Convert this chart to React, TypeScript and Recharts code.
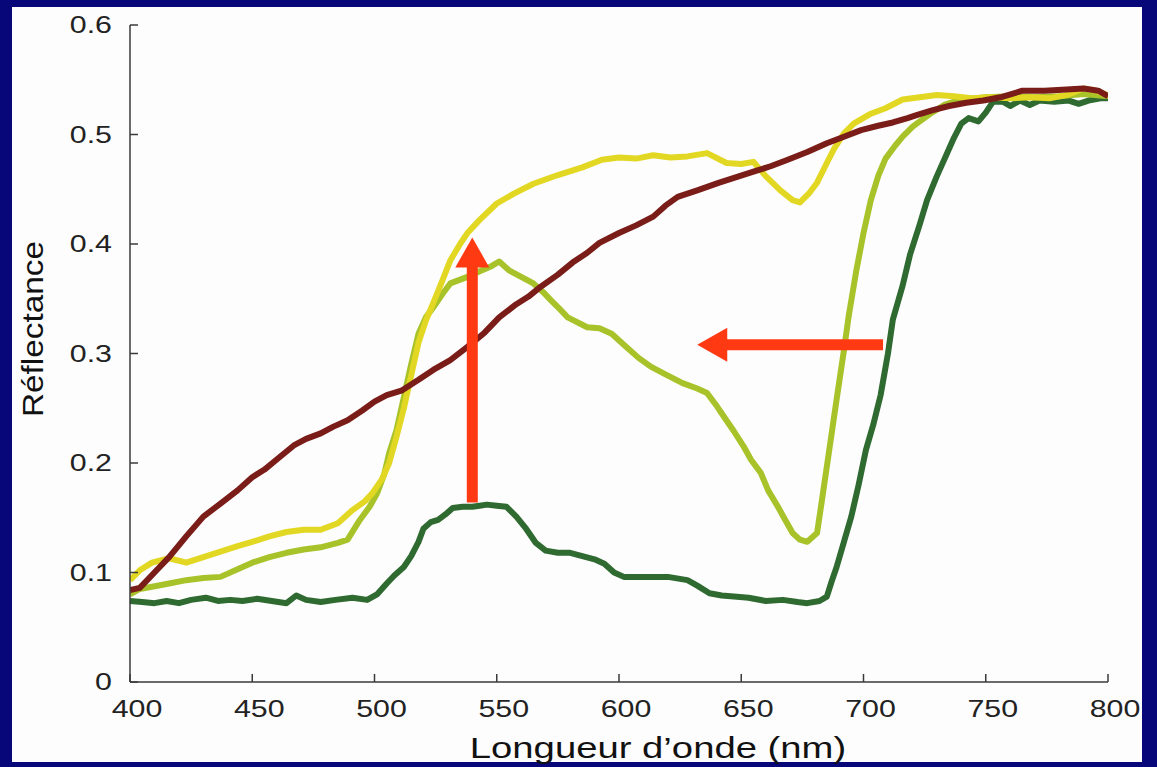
import { LineChart, Line, XAxis, YAxis, ReferenceLine } from 'recharts'

// wavelength (nm) / reflectance, one pair of arrays per curve
const brownWl = [400, 404, 410, 416, 423, 430, 437, 444, 450, 455, 461, 467, 472, 478, 483, 489, 495, 500, 505, 511, 518, 524, 531, 538, 545, 551, 558, 563, 568, 575, 581, 587, 592, 600, 607, 614, 619, 624, 632, 641, 648, 655, 662, 669, 677, 685, 692, 699, 706, 712, 718, 722, 728, 735, 742, 749, 756, 765, 774, 783, 790, 796, 800]
const brownR = [0.084, 0.086, 0.1, 0.114, 0.133, 0.151, 0.163, 0.175, 0.187, 0.194, 0.205, 0.216, 0.222, 0.227, 0.233, 0.239, 0.248, 0.256, 0.262, 0.266, 0.276, 0.285, 0.294, 0.306, 0.319, 0.333, 0.345, 0.352, 0.361, 0.372, 0.383, 0.392, 0.401, 0.41, 0.417, 0.425, 0.435, 0.443, 0.449, 0.456, 0.461, 0.466, 0.471, 0.477, 0.484, 0.492, 0.498, 0.504, 0.508, 0.511, 0.515, 0.518, 0.522, 0.526, 0.529, 0.531, 0.534, 0.54, 0.54, 0.541, 0.542, 0.54, 0.535]

const yellowWl = [400, 404, 409, 416, 423, 430, 437, 444, 450, 457, 464, 471, 478, 485, 491, 496, 499, 503, 506, 509, 512, 515, 518, 521, 524, 528, 531, 535, 538, 543, 550, 557, 565, 575, 585, 593, 600, 607, 614, 621, 628, 636, 644, 650, 655, 660, 666, 671, 674, 678, 681, 685, 688, 692, 696, 703, 709, 716, 723, 730, 737, 745, 752, 760, 768, 776, 783, 790, 795, 800]
const yellowR = [0.093, 0.102, 0.109, 0.113, 0.109, 0.114, 0.119, 0.124, 0.128, 0.133, 0.137, 0.139, 0.139, 0.145, 0.157, 0.165, 0.172, 0.185, 0.2, 0.224, 0.25, 0.28, 0.31, 0.33, 0.346, 0.368, 0.385, 0.4, 0.41, 0.422, 0.437, 0.446, 0.455, 0.463, 0.47, 0.477, 0.479, 0.478, 0.481, 0.479, 0.48, 0.483, 0.474, 0.473, 0.475, 0.462, 0.449, 0.44, 0.438, 0.447, 0.456, 0.474, 0.487, 0.501, 0.51, 0.519, 0.524, 0.532, 0.534, 0.536, 0.535, 0.533, 0.534, 0.533, 0.534, 0.533, 0.536, 0.542, 0.54, 0.536]

const limeWl = [400, 404, 409, 416, 423, 430, 437, 444, 450, 457, 464, 471, 478, 485, 489, 494, 498, 501, 504, 506, 509, 512, 515, 518, 521, 524, 528, 531, 538, 544, 548, 551, 555, 560, 565, 569, 572, 576, 579, 587, 592, 597, 603, 608, 613, 619, 626, 632, 636, 640, 643, 647, 651, 654, 658, 661, 665, 668, 671, 674, 677, 681, 683, 686, 689, 692, 694, 697, 700, 703, 706, 709, 713, 716, 720, 723, 728, 733, 740, 750, 760, 770, 780, 790, 800]
const limeR = [0.08, 0.085, 0.087, 0.09, 0.093, 0.095, 0.096, 0.103, 0.109, 0.114, 0.118, 0.121, 0.123, 0.127, 0.13, 0.148, 0.16, 0.172, 0.19, 0.209, 0.23, 0.26, 0.29, 0.318, 0.333, 0.342, 0.355, 0.364, 0.37, 0.376, 0.38, 0.384, 0.376, 0.37, 0.364, 0.356, 0.349, 0.34, 0.333, 0.324, 0.323, 0.318, 0.306, 0.296, 0.288, 0.281, 0.273, 0.268, 0.264, 0.252, 0.242, 0.229, 0.215, 0.203, 0.191, 0.175, 0.16, 0.148, 0.136, 0.13, 0.128, 0.136, 0.166, 0.212, 0.258, 0.303, 0.335, 0.375, 0.41, 0.44, 0.462, 0.478, 0.49, 0.498, 0.507, 0.512, 0.52, 0.527, 0.532, 0.534, 0.535, 0.534, 0.535, 0.537, 0.535]

const greenWl = [400, 405, 410, 415, 420, 425, 431, 436, 441, 446, 452, 458, 464, 468, 472, 478, 484, 491, 497, 501, 505, 508, 512, 515, 518, 520, 523, 526, 529, 532, 536, 540, 543, 546, 550, 554, 558, 562, 566, 570, 575, 580, 585, 590, 594, 598, 602, 610, 620, 628, 632, 637, 642, 647, 653, 660, 667, 673, 677, 682, 685, 687, 689, 692, 695, 698, 701, 704, 707, 710, 712, 716, 719, 723, 726, 730, 734, 737, 740, 743, 747, 750, 753, 757, 760, 764, 768, 772, 778, 784, 788, 792, 797, 800]
const greenR = [0.074, 0.073, 0.072, 0.074, 0.072, 0.075, 0.077, 0.074, 0.075, 0.074, 0.076, 0.074, 0.072, 0.079, 0.075, 0.073, 0.075, 0.077, 0.075, 0.08, 0.09, 0.097, 0.105, 0.115, 0.128, 0.14, 0.146, 0.148, 0.153, 0.159, 0.16, 0.16, 0.161, 0.162, 0.161, 0.16, 0.151, 0.14, 0.127, 0.12, 0.118, 0.118, 0.115, 0.112, 0.108, 0.1, 0.096, 0.096, 0.096, 0.093, 0.088, 0.081, 0.079, 0.078, 0.077, 0.074, 0.075, 0.073, 0.072, 0.074, 0.078, 0.092, 0.105, 0.128, 0.151, 0.18, 0.212, 0.235, 0.262, 0.3, 0.331, 0.362, 0.39, 0.418, 0.44, 0.462, 0.482, 0.497, 0.51, 0.515, 0.512, 0.52, 0.53, 0.53, 0.526, 0.531, 0.527, 0.531, 0.53, 0.531, 0.528, 0.531, 0.533, 0.533]

// arrows (tail -> tip), in data units
const arrowUp = [{ x: 540, y: 0.164 }, { x: 540, y: 0.406 }]
const arrowLeft = [{ x: 708, y: 0.308 }, { x: 632, y: 0.308 }]

const xTicks = [400, 450, 500, 550, 600, 650, 700, 750, 800]
const yTicks = [0, 0.1, 0.2, 0.3, 0.4, 0.5, 0.6]

const FONT = '"Liberation Sans", Arial, sans-serif'
const AXIS = '#3a3a3a'
const ARROW = '#ff3a12'
const STRETCH = 1.32

const zip = (wl: number[], r: number[]) => wl.map((w, i) => ({ wl: w, r: r[i] }))

const brownData = zip(brownWl, brownR)
const yellowData = zip(yellowWl, yellowR)
const limeData = zip(limeWl, limeR)
const greenData = zip(greenWl, greenR)

const BottomTick = (props: any) => {
  const { x, y, payload } = props
  return (
    <g>
      <line x1={x} y1={y} x2={x} y2={y - 8} stroke={AXIS} strokeWidth={1.5} />
      <text
        transform={`translate(${x + 7},${y + 35}) scale(${STRETCH},1)`}
        textAnchor="middle"
        fontFamily={FONT}
        fontSize={23}
        fill="#222"
      >
        {payload.value}
      </text>
    </g>
  )
}

const LeftTick = (props: any) => {
  const { x, y, payload } = props
  return (
    <g>
      <line x1={x} y1={y} x2={x + 8} y2={y} stroke={AXIS} strokeWidth={1.5} />
      <text
        transform={`translate(${x - 18},${y + 8}) scale(${STRETCH},1)`}
        textAnchor="end"
        fontFamily={FONT}
        fontSize={23}
        fill="#222"
      >
        {payload.value}
      </text>
    </g>
  )
}

const TopTick = (props: any) => (
  <line x1={props.x} y1={props.y} x2={props.x} y2={props.y + 8} stroke={AXIS} strokeWidth={1.5} />
)

const RightTick = (props: any) => (
  <line x1={props.x} y1={props.y} x2={props.x - 8} y2={props.y} stroke={AXIS} strokeWidth={1.5} />
)

const Arrow = (props: any) => {
  const { x1, y1, x2, y2 } = props
  const len = Math.hypot(x2 - x1, y2 - y1) || 1
  const ux = (x2 - x1) / len
  const uy = (y2 - y1) / len
  const head = 30
  const half = 17
  const bx = x2 - ux * head
  const by = y2 - uy * head
  return (
    <g>
      <line x1={x1} y1={y1} x2={bx + ux * 2} y2={by + uy * 2} stroke={ARROW} strokeWidth={11} />
      <polygon
        points={`${x2},${y2} ${bx - uy * half},${by + ux * half} ${bx + uy * half},${by - ux * half}`}
        fill={ARROW}
      />
    </g>
  )
}

export default function App() {
  return (
    <div style={{ position: 'absolute', left: 0, top: 0, width: 1157, height: 767, background: '#07077a', overflow: 'hidden' }}>
      <div style={{ position: 'absolute', left: 12, top: 7, width: 1130, height: 755, background: '#fdfdfd' }} />
      <div style={{ position: 'absolute', left: 0, top: 0 }}>
        <LineChart width={1157} height={767} margin={{ top: 25, right: 49, bottom: 25, left: 30 }}>
          <XAxis
            dataKey="wl"
            type="number"
            domain={[400, 800]}
            ticks={xTicks}
            allowDataOverflow
            height={60}
            tickSize={0}
            tickMargin={0}
            tick={BottomTick}
            axisLine={{ stroke: AXIS, strokeWidth: 1.5 }}
            label={(p: any) => {
              const vb = p.viewBox
              return (
                <text
                  transform={`translate(${vb.x + vb.width / 2 + 39},${vb.y + 76}) scale(${STRETCH},1)`}
                  textAnchor="middle"
                  fontFamily={FONT}
                  fontSize={29}
                  fill="#111"
                >
                  Longueur d’onde (nm)
                </text>
              )
            }}
          />
          <XAxis
            xAxisId="top"
            orientation="top"
            type="number"
            domain={[400, 800]}
            ticks={xTicks}
            allowDataOverflow
            height={0}
            tickSize={0}
            tickMargin={0}
            tick={TopTick}
            axisLine={{ stroke: AXIS, strokeWidth: 1.5 }}
          />
          <YAxis
            type="number"
            domain={[0, 0.6]}
            ticks={yTicks}
            allowDataOverflow
            width={100}
            tickSize={0}
            tickMargin={0}
            tick={LeftTick}
            axisLine={{ stroke: AXIS, strokeWidth: 1.5 }}
            label={(p: any) => {
              const vb = p.viewBox
              return (
                <text
                  transform={`translate(${vb.x + 13},${vb.y + 304}) rotate(-90) scale(1.15,1)`}
                  textAnchor="middle"
                  fontFamily={FONT}
                  fontSize={29}
                  fill="#111"
                >
                  Réflectance
                </text>
              )
            }}
          />
          <YAxis
            yAxisId="right"
            orientation="right"
            type="number"
            domain={[0, 0.6]}
            ticks={yTicks}
            allowDataOverflow
            width={0}
            tickSize={0}
            tickMargin={0}
            tick={RightTick}
            axisLine={{ stroke: AXIS, strokeWidth: 1.5 }}
          />
          <Line data={greenData} dataKey="r" stroke="#2f6a30" strokeWidth={6} dot={false} isAnimationActive={false} strokeLinejoin="round" />
          <Line data={limeData} dataKey="r" stroke="#a8c22a" strokeWidth={6} dot={false} isAnimationActive={false} strokeLinejoin="round" />
          <Line data={yellowData} dataKey="r" stroke="#e2d823" strokeWidth={6} dot={false} isAnimationActive={false} strokeLinejoin="round" />
          <Line data={brownData} dataKey="r" stroke="#7a1c18" strokeWidth={6} dot={false} isAnimationActive={false} strokeLinejoin="round" />
          <ReferenceLine segment={arrowUp} shape={Arrow} ifOverflow="visible" />
          <ReferenceLine segment={arrowLeft} shape={Arrow} ifOverflow="visible" />
        </LineChart>
      </div>
    </div>
  )
}
